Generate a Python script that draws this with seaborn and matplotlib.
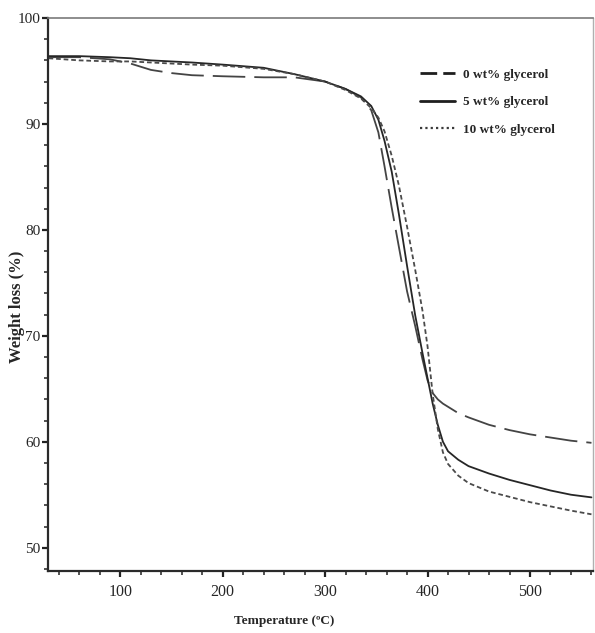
import matplotlib
matplotlib.use("Agg")
import matplotlib.pyplot as plt
from matplotlib.lines import Line2D
from matplotlib.ticker import MultipleLocator
import seaborn as sns
import pandas as pd

# Thermogravimetric curves: temperature (°C) vs remaining weight (%)
temperature = [30, 60, 90, 110, 130, 150, 170, 200, 240, 270, 300, 320, 335, 345,
               352, 358, 365, 372, 380, 388, 395, 400, 405, 410, 415, 420, 430,
               440, 460, 480, 500, 520, 540, 560]

weight_0 = [96.3, 96.3, 96.1, 95.7, 95.1, 94.8, 94.6, 94.5, 94.4, 94.4, 94.0, 93.3,
            92.5, 91.3, 89.2, 86.0, 82.1, 78.4, 74.2, 70.9, 67.8, 65.8, 64.6, 64.0,
            63.6, 63.3, 62.7, 62.3, 61.6, 61.1, 60.7, 60.4, 60.1, 59.9]

weight_5 = [96.4, 96.4, 96.3, 96.2, 96.0, 95.9, 95.8, 95.6, 95.3, 94.7, 94.0, 93.3,
            92.6, 91.7, 90.4, 88.4, 85.5, 81.5, 76.6, 71.9, 68.4, 66.0, 63.6, 61.6,
            60.0, 59.1, 58.3, 57.7, 57.0, 56.4, 55.9, 55.4, 55.0, 54.75]

weight_10 = [96.2, 96.0, 95.9, 95.9, 95.8, 95.7, 95.6, 95.5, 95.2, 94.7, 94.0, 93.2,
             92.4, 91.5, 90.6, 89.3, 87.0, 84.2, 80.3, 76.2, 72.4, 69.0, 64.5, 61.2,
             59.0, 57.9, 56.8, 56.1, 55.3, 54.8, 54.3, 53.9, 53.5, 53.15]

series_labels = ["0 wt% glycerol", "5 wt% glycerol", "10 wt% glycerol"]
x_ticks = [100, 200, 300, 400, 500]
y_ticks = [50, 60, 70, 80, 90, 100]

sns.set_style("ticks")
plt.rcParams["font.family"] = ["Liberation Serif", "DejaVu Serif"]

fig = plt.figure(figsize=(5.95, 6.33), dpi=100)
ax = fig.add_axes([48 / 595, 1 - 571 / 633, (593 - 48) / 595, (571 - 18) / 633])

colors = ["#444444", "#262626", "#4a4a4a"]
plot_styles = [(0, (18, 5)), "-", (0, (2.6, 1.6))]
for values, label, c, ls in zip([weight_0, weight_5, weight_10], series_labels,
                                colors, plot_styles):
    df = pd.DataFrame({"T": temperature, "W": values})
    sns.lineplot(data=df, x="T", y="W", ax=ax, linewidth=1.3, color=c,
                 linestyle=ls, legend=False)

ax.set_xlim(29.5, 561.5)
ax.set_ylim(47.8, 100)
ax.set_xticks(x_ticks)
ax.set_yticks(y_ticks)
ax.xaxis.set_minor_locator(MultipleLocator(20))
ax.yaxis.set_minor_locator(MultipleLocator(2))
ax.tick_params(axis="both", which="major", direction="out", length=4, width=1.6,
               color="#222222")
ax.tick_params(axis="x", which="major", labelsize=11.5, pad=5)
ax.tick_params(axis="y", which="major", labelsize=11, pad=1.5)
ax.tick_params(axis="both", which="minor", direction="out", length=3, width=1.2,
               color="#333333")
ax.tick_params(top=False, right=False, which="both")

for side in ["left", "bottom"]:
    ax.spines[side].set_color("#2a2a2a")
    ax.spines[side].set_linewidth(1.6)
ax.spines["top"].set_color("#7a7a7a")
ax.spines["top"].set_linewidth(1.2)
ax.spines["right"].set_color("#b0b0b0")
ax.spines["right"].set_linewidth(1.0)

ax.set_xlabel("Temperature (\u00baC)", fontsize=9.5, fontweight="bold")
ax.xaxis.set_label_coords(0.433, -0.08)
ax.set_ylabel("Weight loss (%)", fontsize=12, fontweight="bold")
ax.yaxis.set_label_coords(-0.043, 0.477)

# legend keys drawn with the short dash patterns of the printed key
legend_handles = [
    Line2D([], [], color="#1e1e1e", linewidth=2.0, linestyle=(0, (6, 2.2))),
    Line2D([], [], color="#1e1e1e", linewidth=2.0, linestyle="-"),
    Line2D([], [], color="#3a3a3a", linewidth=1.6, linestyle=(0, (1.0, 1.4))),
]
ax.legend(legend_handles, series_labels, loc="upper left",
          bbox_to_anchor=(0.66, 0.93), frameon=False,
          prop={"weight": "bold", "size": 9.5}, handlelength=2.7,
          handletextpad=0.6, labelspacing=1.15)

fig.savefig("out.png", dpi=100, facecolor="white")
